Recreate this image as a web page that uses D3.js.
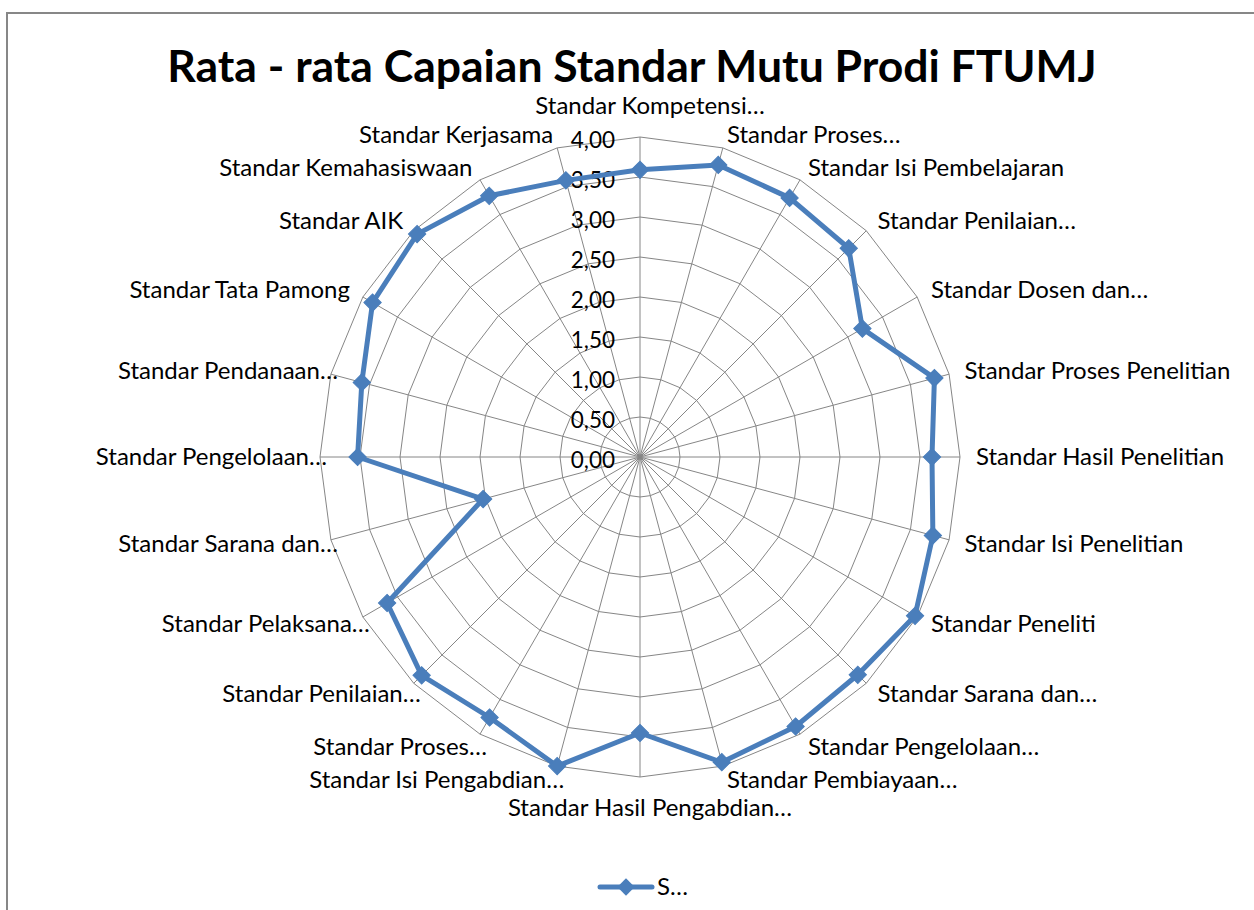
<!DOCTYPE html>
<html lang="en">
<head>
    <meta charset="UTF-8">
    <title>Rata - rata Capaian Standar Mutu Prodi FTUMJ</title>
    <script src="https://cdn.jsdelivr.net/npm/d3@7"></script>
    <style>
        body{
            margin: 0;
            background-color: #fff;
        }
        svg text{
            font-family: Lato, "Open Sans", sans-serif;
        }
    </style>
</head>
<body>
<script>
    // Data
    const categories = [
        "Standar Kompetensi…", "Standar Proses…", "Standar Isi Pembelajaran", "Standar Penilaian…",
        "Standar Dosen dan…", "Standar Proses Penelitian", "Standar Hasil Penelitian", "Standar Isi Penelitian",
        "Standar Peneliti", "Standar Sarana dan…", "Standar Pengelolaan…", "Standar Pembiayaan…",
        "Standar Hasil Pengabdian…", "Standar Isi Pengabdian…", "Standar Proses…", "Standar Penilaian…",
        "Standar Pelaksana…", "Standar Sarana dan…", "Standar Pengelolaan…", "Standar Pendanaan…",
        "Standar Tata Pamong", "Standar AIK", "Standar Kemahasiswaan", "Standar Kerjasama"
    ];
    const values = [
        3.59, 3.78, 3.74, 3.69, 3.21, 3.81, 3.65, 3.79,
        3.97, 3.85, 3.89, 3.95, 3.45, 4.00, 3.76, 3.86,
        3.65, 2.03, 3.53, 3.60, 3.86, 3.94, 3.77, 3.58
    ];
    const ticks = [0, 0.5, 1, 1.5, 2, 2.5, 3, 3.5, 4];
    const seriesName = "S…";

    const width = 1254;
    const height = 910;
    const cx = 640, cy = 457;
    const radius = 320;
    const blue = "#4a7ebb";
    const gridColor = "#868686";

    const svg = d3.select("body").append("svg")
        .attr("width", width)
        .attr("height", height);

    // chart frame (continues past the right and bottom edge)
    svg.append("rect")
        .attr("x", 7).attr("y", 13)
        .attr("width", 1300).attr("height", 1000)
        .attr("fill", "none")
        .attr("stroke", "#878787")
        .attr("stroke-width", 2);

    // title
    svg.append("text")
        .attr("x", 632)
        .attr("y", 82)
        .attr("text-anchor", "middle")
        .style("font-size", "44.5px")
        .style("font-weight", "bold")
        .text("Rata - rata Capaian Standar Mutu Prodi FTUMJ");

    const g = svg.append("g").attr("transform", `translate(${cx},${cy})`);

    const angle = d3.scaleLinear()
        .domain([0, categories.length])
        .range([0, 2 * Math.PI]);
    const r = d3.scaleLinear()
        .domain([0, 4])
        .range([0, radius]);

    const point = (i, v) => [Math.sin(angle(i)) * r(v), -Math.cos(angle(i)) * r(v)];

    // grid rings
    const ring = d3.lineRadial()
        .angle((d, i) => angle(i))
        .radius(d => r(d))
        .curve(d3.curveLinearClosed);

    g.selectAll(".ring")
        .data(ticks.slice(1))
        .enter().append("path")
        .attr("class", "ring")
        .attr("d", t => ring(categories.map(() => t)))
        .attr("fill", "none")
        .attr("stroke", gridColor)
        .attr("stroke-width", 1);

    // spokes
    g.selectAll(".spoke")
        .data(categories)
        .enter().append("line")
        .attr("class", "spoke")
        .attr("x1", 0).attr("y1", 0)
        .attr("x2", (d, i) => point(i, 4)[0])
        .attr("y2", (d, i) => point(i, 4)[1])
        .attr("stroke", gridColor)
        .attr("stroke-width", 1);

    // value axis labels
    g.selectAll(".tick")
        .data(ticks)
        .enter().append("text")
        .attr("class", "tick")
        .attr("x", -25)
        .attr("y", t => -r(t) + 3)
        .attr("dy", "0.35em")
        .attr("text-anchor", "end")
        .style("font-size", "22.5px")
        .text(t => d3.format(".2f")(t).replace(".", ","));

    // category labels
    g.selectAll(".cat")
        .data(categories)
        .enter().append("text")
        .attr("class", "cat")
        .each(function (d, i) {
            const a = angle(i);
            const s = Math.sin(a), c = Math.cos(a);
            const [vx, vy] = point(i, 4);
            const t = d3.select(this);
            if (Math.abs(s) < 0.1) {
                t.attr("x", vx + 10)
                    .attr("y", vy - Math.sign(c) * 31)
                    .attr("text-anchor", "middle");
            } else if (s > 0) {
                t.attr("x", vx + 16 * s)
                    .attr("y", vy - 14 * c)
                    .attr("text-anchor", "start");
            } else {
                const cut = d.endsWith("…");
                t.attr("x", cut ? vx + 7 : vx + 15 * s)
                    .attr("y", vy - 14 * c)
                    .attr("text-anchor", "end");
            }
        })
        .attr("dy", "0.35em")
        .style("font-size", "24px")
        .text(d => d);

    // series line
    const line = d3.lineRadial()
        .angle((d, i) => angle(i))
        .radius(d => r(d))
        .curve(d3.curveLinearClosed);

    g.append("path")
        .attr("d", line(values))
        .attr("fill", "none")
        .attr("stroke", blue)
        .attr("stroke-width", 5)
        .attr("stroke-linejoin", "round");

    const diamond = d3.symbol().type(d3.symbolSquare).size(150);

    g.selectAll(".marker")
        .data(values)
        .enter().append("path")
        .attr("class", "marker")
        .attr("d", diamond)
        .attr("transform", (d, i) => {
            const [x, y] = point(i, d);
            return `translate(${x},${y}) rotate(45)`;
        })
        .attr("fill", blue)
        .attr("stroke", blue)
        .attr("stroke-width", 1);

    // legend
    const lg = svg.append("g").attr("transform", "translate(600,887)");
    lg.append("line")
        .attr("x1", 0).attr("x2", 52)
        .attr("y1", 0).attr("y2", 0)
        .attr("stroke", blue)
        .attr("stroke-width", 5)
        .attr("stroke-linecap", "round");
    lg.append("path")
        .attr("d", diamond)
        .attr("transform", "translate(26,0) rotate(45)")
        .attr("fill", blue);
    lg.append("text")
        .attr("x", 57)
        .attr("y", 0)
        .attr("dy", "0.35em")
        .style("font-size", "24px")
        .text(seriesName);
</script>
</body>
</html>
